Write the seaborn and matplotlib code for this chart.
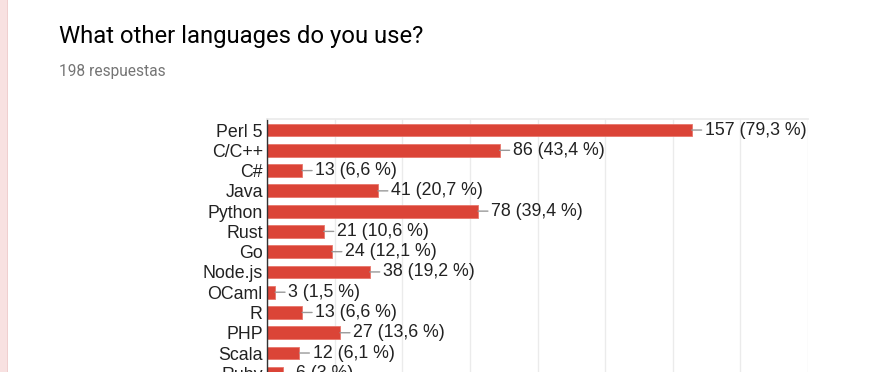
import matplotlib
matplotlib.use("Agg")
import matplotlib.pyplot as plt
import matplotlib.patches as mpatches
import seaborn as sns
import pandas as pd

categories = ["Perl 5", "C/C++", "C#", "Java", "Python", "Rust", "Go",
              "Node.js", "OCaml", "R", "PHP", "Scala", "Ruby"]
counts = [157, 86, 13, 41, 78, 21, 24, 38, 3, 13, 27, 12, 6]
percents = ["79,3", "43,4", "6,6", "20,7", "39,4", "10,6", "12,1",
            "19,2", "1,5", "6,6", "13,6", "6,1", "3"]
x_ticks = list(range(0, 201, 25))

df = pd.DataFrame({"language": categories, "count": counts})

sns.set_theme(style="white")
plt.rcParams["font.family"] = ["Liberation Sans", "DejaVu Sans"]

W, H = 885, 372
fig = plt.figure(figsize=(W / 100, H / 100), dpi=100)
fig.patch.set_facecolor("white")

# axes geometry (pixels)
left_px, right_px, top_px = 267, 808, 119
row_px = 20.27
ytop, ybot = -0.545, 12.6
height_px = (ybot - ytop) * row_px
bottom_px = top_px + height_px
ax = fig.add_axes([left_px / W, 1 - bottom_px / H,
                   (right_px - left_px) / W, height_px / H])

sns.barplot(data=df, x="count", y="language", orient="h", color="#db4437",
            width=0.63, edgecolor="#e8776c", linewidth=0.6, ax=ax,
            saturation=1)

ax.set_xlim(0, 200)
ax.set_ylim(ybot, ytop)
ax.set_xticks(x_ticks)
ax.set_xticklabels([])
ax.grid(axis="x", color="#ebebeb", linewidth=1)
ax.set_axisbelow(True)
ax.set_xlabel("")
ax.set_ylabel("")
ax.tick_params(axis="y", length=0, pad=3, labelsize=12.8, labelcolor="#222222")
ax.tick_params(axis="x", length=0)
for s in ["right", "bottom"]:
    ax.spines[s].set_visible(False)
ax.spines["top"].set_color("#ebebeb")
ax.spines["left"].set_color("#333333")
ax.spines["left"].set_linewidth(1)

for i, (c, p) in enumerate(zip(counts, percents)):
    ax.annotate(f"{c} ({p} %)", xy=(c, i), xytext=(9.5, 0),
                textcoords="offset points", ha="left", va="center",
                fontsize=12.8, color="#222222", annotation_clip=False,
                arrowprops=dict(arrowstyle="-", color="#999999", lw=1,
                                shrinkA=0, shrinkB=0))

# page strip on the left
fig.patches.append(mpatches.Rectangle((0, 0), 7 / W, 1, transform=fig.transFigure,
                                      facecolor="#f8e1e1", edgecolor="none"))
fig.patches.append(mpatches.Rectangle((7 / W, 0), 1 / W, 1, transform=fig.transFigure,
                                      facecolor="#efcfcf", edgecolor="none"))

fig.text(59 / W, 1 - 43 / H, "What other languages do you use?", family=["Roboto", "DejaVu Sans"],
         fontsize=17.2, color="#000000", va="baseline", ha="left")
fig.text(59 / W, 1 - 76 / H, "198 respuestas", family=["Roboto", "DejaVu Sans"],
         fontsize=11.2, color="#757575", va="baseline", ha="left")

fig.savefig("out.png", dpi=100)
